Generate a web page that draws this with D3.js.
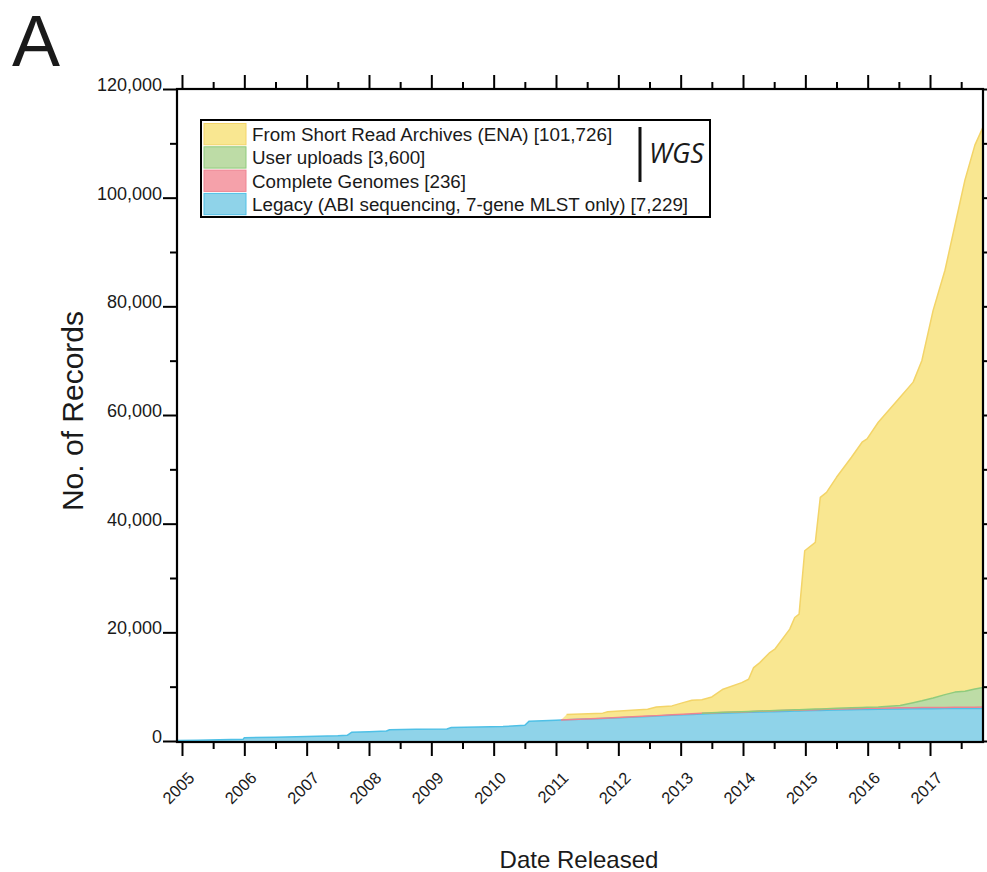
<!DOCTYPE html>
<html><head><meta charset="utf-8">
<script src="https://cdn.jsdelivr.net/npm/d3@7"></script>
<style>
body{margin:0;background:#fff;}
svg text{font-family:"Liberation Sans", Arial, Helvetica, sans-serif;fill:#1a1a1a;}
</style></head><body>
<svg id="chart" width="987" height="872"></svg>
<script>
// ---- data (decimal years, cumulative record counts) ----
const dates = [2004.92,2005.25,2005.6,2005.98,2006.0,2006.5,2007.0,2007.5,2007.65,2007.72,
  2008.0,2008.28,2008.33,2008.75,2009.25,2009.32,2009.75,2010.15,2010.5,2010.57,
  2011.0,2011.08,2011.17,2011.75,2011.83,2012.47,2012.61,2012.86,2013.04,2013.18,
  2013.34,2013.5,2013.68,2013.98,2014.09,2014.17,2014.27,2014.43,2014.51,2014.75,
  2014.83,2014.9,2014.99,2015.16,2015.24,2015.34,2015.5,2015.74,2015.91,2015.99,
  2016.17,2016.52,2016.73,2016.87,2017.05,2017.24,2017.4,2017.56,2017.72,2017.85];
const legacy = [100,150,220,300,600,700,820,950,1050,1600,
  1700,1840,2080,2150,2220,2500,2580,2650,2900,3650,
  3820,3860,3900,4150,4200,4520,4600,4730,4820,4900,
  4980,5050,5130,5230,5270,5300,5330,5380,5400,5480,
  5500,5520,5550,5600,5620,5650,5700,5760,5800,5820,
  5850,5900,5920,5930,5950,5960,5970,5980,5990,6000];
const completeGenomes = [0,0,0,0,0,0,0,0,0,0,
  0,0,0,0,0,0,0,0,0,0,
  0,5,10,30,35,60,70,80,90,95,
  105,110,118,130,133,135,138,145,150,158,
  160,162,165,170,172,175,180,188,192,195,
  200,210,215,218,220,225,228,230,233,236];
const userUploads = [0,0,0,0,0,0,0,0,0,0,
  0,0,0,0,0,0,0,0,0,0,
  0,0,0,0,0,0,0,0,0,0,
  10,20,28,40,44,47,51,57,60,75,
  80,85,90,100,105,112,130,150,170,180,
  220,430,900,1250,1750,2350,2800,2950,3350,3600];
const shortReadArchives = [0,0,0,0,0,0,0,0,0,0,
  0,0,0,0,0,0,0,0,0,0,
  0,0,950,950,1150,1250,1600,1650,2150,2500,
  2500,2930,4250,5350,5920,8030,8910,10700,11290,14880,
  16990,17580,29215,30680,38950,39830,42520,46120,48830,49415,
  52400,56740,59015,62650,71340,78105,85930,94070,100100,103160];

const seriesKeys = ["legacy","complete","user","sra"];
const legendKeys = ["sra","user","complete","legacy"];
const legendLabels = ["From Short Read Archives (ENA) [101,726]","User uploads [3,600]",
  "Complete Genomes [236]","Legacy (ABI sequencing, 7-gene MLST only) [7,229]"];
const yearTicks = [2005,2006,2007,2008,2009,2010,2011,2012,2013,2014,2015,2016,2017];
const halfYearTicks = [2005.5,2006.5,2007.5,2008.5,2009.5,2010.5,2011.5,2012.5,2013.5,2014.5,2015.5,2016.5,2017.5];
const yMajorTicks = [0,20000,40000,60000,80000,100000,120000];
const yTickLabels = ["0","20,000","40,000","60,000","80,000","100,000","120,000"];
const yMinorTicks = [10000,30000,50000,70000,90000,110000];

const fills = {sra:"#f9e791", user:"#bddca6", complete:"#f5a1aa", legacy:"#8fd3e9"};
const strokes = {sra:"#f3d468", user:"#8fcb7c", complete:"#ee8391", legacy:"#4fc0e6"};

// ---- layout ----
const L=177, R=983, T=89, B=741;
const svg = d3.select("#chart");
const x = d3.scaleLinear().domain([2004.92, 2017.85]).range([L, R]);
const y = d3.scaleLinear().domain([0, 120000]).range([B, T]);

const table = dates.map((d,i)=>({date:d, legacy:legacy[i], complete:completeGenomes[i],
  user:userUploads[i], sra:shortReadArchives[i]}));
const stacked = d3.stack().keys(seriesKeys)(table);

svg.append("defs").append("clipPath").attr("id","clip")
  .append("rect").attr("x",L).attr("y",T).attr("width",R-L).attr("height",B-T+1);

const area = d3.area().x(d=>x(d.data.date)).y0(d=>y(d[0])).y1(d=>y(d[1]));
const g = svg.append("g").attr("clip-path","url(#clip)");
g.selectAll("path.area").data(stacked).join("path")
  .attr("class","area").attr("d",area).attr("fill",s=>fills[s.key]);
const topLine = d3.line().x(d=>x(d.data.date)).y(d=>y(d[1])).defined(d=>d[1]-d[0]>0);
g.selectAll("path.edge").data(stacked).join("path")
  .attr("class","edge").attr("d",topLine).attr("fill","none")
  .attr("stroke",s=>strokes[s.key]).attr("stroke-width",1.5).attr("stroke-linejoin","round");

// ---- axes ----
function styleAxis(sel){
  sel.select(".domain").remove();
  sel.selectAll(".tick line").attr("stroke","#000").attr("stroke-width",2);
}
const gl = svg.append("g").attr("transform",`translate(${L},0)`)
  .call(d3.axisLeft(y).tickValues(yMajorTicks).tickSize(14).tickPadding(1)
    .tickFormat((d,i)=>yTickLabels[i]));
styleAxis(gl);
gl.selectAll(".tick text").attr("dy","0.08em").style("font-size","18px").attr("fill","#1a1a1a");
styleAxis(svg.append("g").attr("transform",`translate(${L},0)`)
  .call(d3.axisLeft(y).tickValues(yMinorTicks).tickSize(7).tickFormat("")));
styleAxis(svg.append("g").attr("transform",`translate(${R},0)`)
  .call(d3.axisRight(y).tickValues(yMajorTicks).tickSize(14).tickFormat("")));
styleAxis(svg.append("g").attr("transform",`translate(${R},0)`)
  .call(d3.axisRight(y).tickValues(yMinorTicks).tickSize(7).tickFormat("")));
styleAxis(svg.append("g").attr("transform",`translate(0,${T})`)
  .call(d3.axisTop(x).tickValues(yearTicks).tickSize(14).tickFormat("")));
styleAxis(svg.append("g").attr("transform",`translate(0,${T})`)
  .call(d3.axisTop(x).tickValues(halfYearTicks).tickSize(7).tickFormat("")));
const gb = svg.append("g").attr("transform",`translate(0,${B+1})`)
  .call(d3.axisBottom(x).tickValues(yearTicks).tickSize(14).tickFormat(d=>String(d)));
styleAxis(gb);
gb.selectAll(".tick text").attr("y",0).attr("dy",0)
  .attr("text-anchor","end").style("font-size","16.5px").attr("fill","#1a1a1a")
  .attr("transform","translate(13,37) rotate(-45)");
styleAxis(svg.append("g").attr("transform",`translate(0,${B+1})`)
  .call(d3.axisBottom(x).tickValues(halfYearTicks).tickSize(7).tickFormat("")));

// frame
svg.append("rect").attr("x",L).attr("y",T).attr("width",R-L).attr("height",B+1-T)
  .attr("fill","none").attr("stroke","#000").attr("stroke-width",2.2);

// ---- titles ----
svg.append("text").attr("x",12).attr("y",65.5).text("A")
  .style("font-family","'Liberation Sans', Arial, sans-serif").style("font-size","72px").attr("fill","#111");
svg.append("text").attr("transform","translate(83,411) rotate(-90)").attr("text-anchor","middle")
  .style("font-size","30px").text("No. of Records");
svg.append("text").attr("x",579).attr("y",868).attr("text-anchor","middle")
  .style("font-size","24px").text("Date Released");

// ---- legend ----
const lg = svg.append("g");
lg.append("rect").attr("x",201).attr("y",120).attr("width",509).attr("height",97)
  .attr("fill","#fff").attr("stroke","#000").attr("stroke-width",2);
const rowH = 23.3;
legendKeys.forEach((k,i)=>{
  const ry = 123 + i*rowH;
  lg.append("rect").attr("x",204).attr("y",ry+0.5).attr("width",42).attr("height",rowH-2)
    .attr("fill",fills[k]).attr("stroke",strokes[k]).attr("stroke-width",1);
  lg.append("text").attr("x",252).attr("y",ry+rowH/2+6.5).style("font-size","18.8px")
    .text(legendLabels[i]);
});
lg.append("line").attr("x1",640).attr("x2",640).attr("y1",127).attr("y2",182)
  .attr("stroke","#111").attr("stroke-width",3);
lg.append("text").attr("x",649).attr("y",163).text("WGS")
  .style("font-family","'Open Sans', 'Noto Sans', sans-serif").style("font-style","italic")
  .style("font-size","27px").attr("fill","#111");
</script></body></html>
